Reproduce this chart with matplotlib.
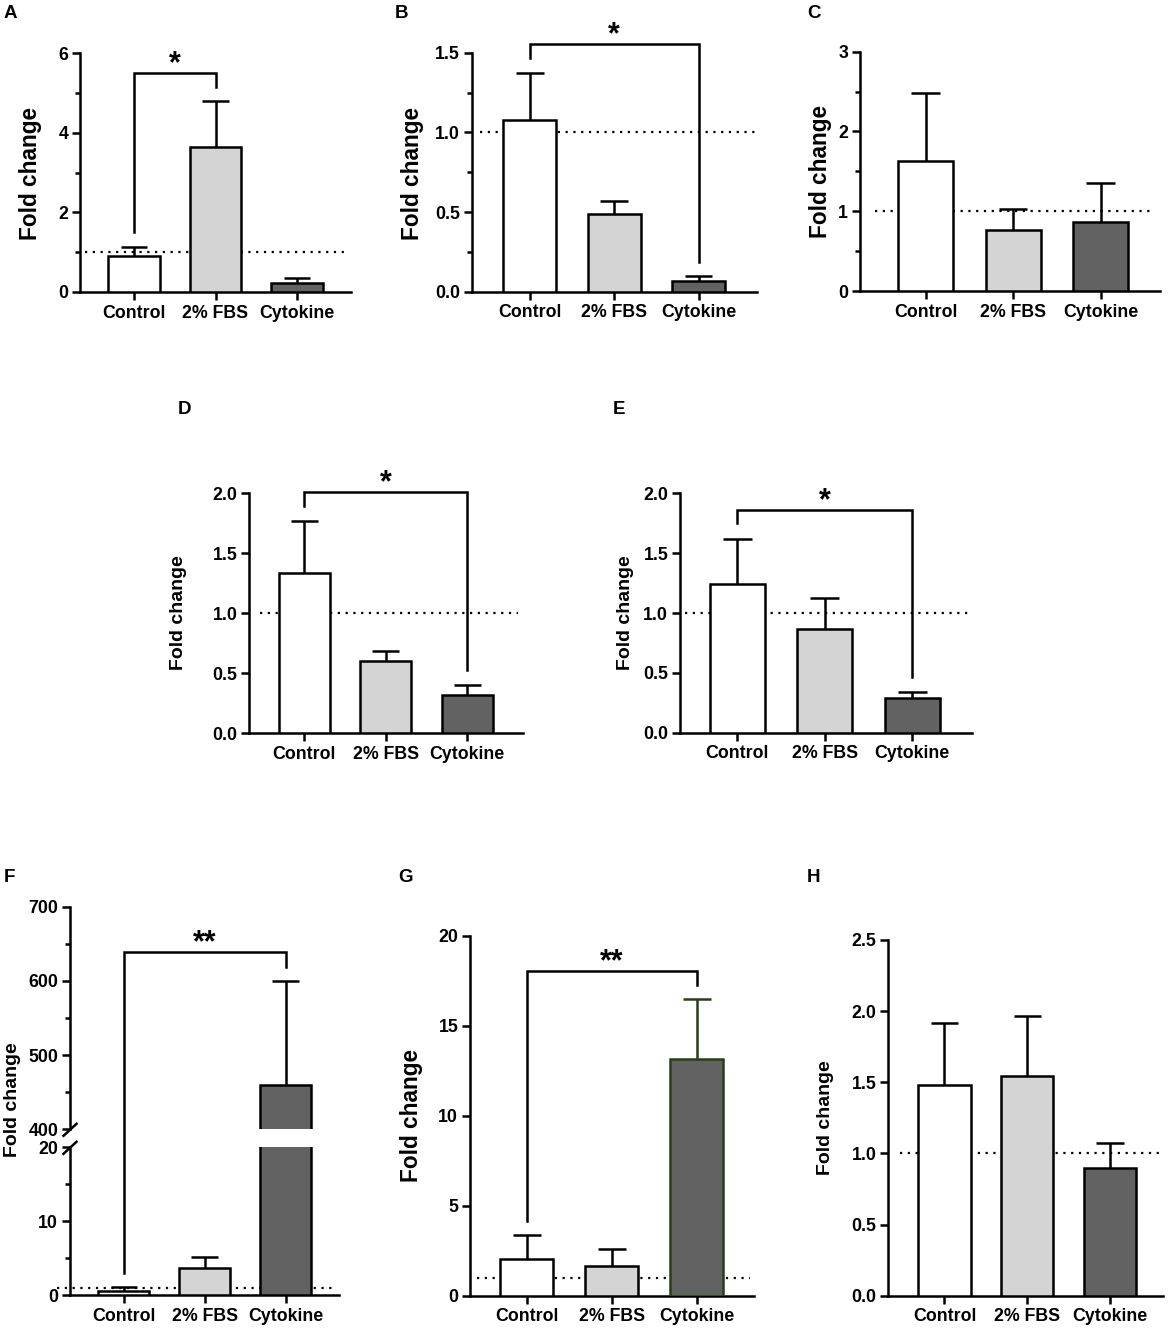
import matplotlib
matplotlib.use('Agg')
import matplotlib.pyplot as plt
import numpy as np
from matplotlib.lines import Line2D

plt.rcParams['font.family'] = ['Liberation Sans', 'DejaVu Sans']
plt.rcParams['font.weight'] = 'bold'

# ---------------- data ----------------
categories = ['Control', '2% FBS', 'Cytokine']

a_mean = [0.91, 3.65, 0.22]
a_sd = [0.23, 1.15, 0.12]
b_mean = [1.08, 0.49, 0.067]
b_sd = [0.295, 0.078, 0.032]
c_mean = [1.63, 0.76, 0.87]
c_sd = [0.85, 0.27, 0.49]
d_mean = [1.34, 0.60, 0.32]
d_sd = [0.43, 0.09, 0.085]
e_mean = [1.24, 0.866, 0.292]
e_sd = [0.38, 0.257, 0.045]
f_mean = [0.6, 3.6, 460.0]
f_sd = [0.5, 1.6, 140.0]
g_mean = [2.04, 1.67, 13.16]
g_sd = [1.32, 0.94, 3.32]
h_mean = [1.48, 1.546, 0.90]
h_sd = [0.44, 0.42, 0.175]

# significance brackets: (group i, group j, bracket height, leg i bottom, leg j bottom, label)
a_sig = (0, 1, 5.51, 1.51, 5.15, '*')
b_sig = (0, 2, 1.556, 1.465, 0.188, '*')
d_sig = (0, 2, 2.008, 1.894, 0.528, '*')
e_sig = (0, 2, 1.86, 1.75, 0.463, '*')
f_sig = (0, 2, 638.5, 2.94, 619.0, '**')
g_sig = (0, 2, 18.07, 4.17, 17.28, '**')

reference_level = 1.0

# ---------------- style ----------------
W, H = 1170, 1330
fig = plt.figure(figsize=(W / 100, H / 100), dpi=100)
LW = 1.8
PX = 72 / 100.0  # points per pixel
fills = ['#ffffff', '#d4d4d4', '#626262']
edges = ['black', 'black', 'black']
BAR_W = 0.63
CAP = 0.165
TICK_FS = 12.8
STAR_FS = 22
STAR_OFF = 0.5
x = np.arange(len(categories))


def add_ax(l, r, t, b):
    return fig.add_axes([l / W, 1 - b / H, (r - l) / W, (b - t) / H])


def style(ax, xlim, ylim, yticks, ylabels, yminor=(), show_x=True):
    ax.set_xlim(*xlim)
    ax.set_ylim(*ylim)
    ax.patch.set_alpha(0)
    for s in ['top', 'right']:
        ax.spines[s].set_visible(False)
    for s in ['left', 'bottom']:
        ax.spines[s].set_linewidth(LW)
    ax.set_yticks(yticks)
    ax.set_yticklabels(ylabels)
    ax.set_yticks(list(yminor), minor=True)
    ax.tick_params(axis='y', which='major', length=6 * PX * 1.4, width=LW,
                   labelsize=TICK_FS, pad=2.5)
    ax.tick_params(axis='y', which='minor', length=3.5 * PX * 1.4, width=LW)
    if show_x:
        ax.set_xticks(x)
        ax.set_xticklabels(categories)
        ax.tick_params(axis='x', which='major', length=6 * PX * 1.4, width=LW,
                       labelsize=TICK_FS, pad=3)
        ax.tick_params(axis='x', which='minor', length=0)
    else:
        ax.set_xticks([])
        ax.spines['bottom'].set_visible(False)


def bars(ax, means, sds, edgecols=edges, errcols=('black', 'black', 'black')):
    means = np.asarray(means)
    sds = np.asarray(sds)
    ax.bar(x, means, BAR_W, color=fills, edgecolor=edgecols, linewidth=LW, zorder=3)
    ax.vlines(x, means, means + sds, colors=errcols, linewidth=LW, zorder=2)
    ax.hlines(means + sds, x - CAP, x + CAP, colors=errcols, linewidth=LW, zorder=2)


def refline(ax, x0, x1):
    ax.axhline(reference_level, x0, x1, color='black', linewidth=1.6,
               linestyle=(0, (1, 2.5)), zorder=1, clip_on=False)


def star(ax, xc, y, txt):
    ax.annotate(txt, xy=(xc, y), xytext=(0, STAR_OFF),
                textcoords='offset points', ha='center', va='baseline',
                fontsize=STAR_FS, annotation_clip=False)


def bracket(ax, sig):
    i, j, y, li, lj, txt = sig
    ax.plot([x[i], x[i], x[j], x[j]], [li, y, y, lj], color='black', lw=LW,
            clip_on=False, solid_joinstyle='miter', zorder=4)
    star(ax, (x[i] + x[j]) / 2, y, txt)


def ylabel(xc, yc, fs):
    fig.text(xc / W, 1 - yc / H, 'Fold change', rotation=90, ha='center',
             va='center', fontsize=fs)


def letter(xl, yc, s):
    fig.text(xl / W, 1 - yc / H, s, ha='left', va='center', fontsize=13.5)


# ---------------- Panel A ----------------
ax = add_ax(80, 351, 53, 292)
style(ax, (-0.663, 2.663), (0, 6), [0, 2, 4, 6], ['0', '2', '4', '6'], [1, 3, 5])
bars(ax, a_mean, a_sd)
refline(ax, 0.018, 0.985)
bracket(ax, a_sig)
ylabel(30.5, 173, 16.3)
letter(4, 14, 'A')

# ---------------- Panel B ----------------
ax = add_ax(471.7, 756.7, 52.7, 291.7)
style(ax, (-0.69, 2.69), (0, 1.5), [0, 0.5, 1.0, 1.5], ['0.0', '0.5', '1.0', '1.5'],
      [0.25, 0.75, 1.25])
bars(ax, b_mean, b_sd)
refline(ax, 0.029, 0.995)
bracket(ax, b_sig)
ylabel(412.5, 173, 16.3)
letter(395, 14, 'B')

# ---------------- Panel C ----------------
ax = add_ax(860, 1160, 51.7, 291)
style(ax, (-0.75, 2.68), (0, 3), [0, 1, 2, 3], ['0', '1', '2', '3'], [0.5, 1.5, 2.5])
bars(ax, c_mean, c_sd)
refline(ax, 0.05, 0.983)
ylabel(820, 172, 16.3)
letter(807, 14, 'C')

# ---------------- Panel D ----------------
ax = add_ax(249.3, 523.3, 493.3, 733.3)
style(ax, (-0.675, 2.687), (0, 2), [0, 0.5, 1.0, 1.5, 2.0],
      ['0.0', '0.5', '1.0', '1.5', '2.0'])
bars(ax, d_mean, d_sd)
refline(ax, 0.04, 0.98)
bracket(ax, d_sig)
ylabel(178.3, 613, 14)
letter(178, 409, 'D')

# ---------------- Panel E ----------------
ax = add_ax(680, 971.7, 493.3, 732.7)
style(ax, (-0.655, 2.68), (0, 2), [0, 0.5, 1.0, 1.5, 2.0],
      ['0.0', '0.5', '1.0', '1.5', '2.0'])
bars(ax, e_mean, e_sd)
refline(ax, 0.017, 0.99)
bracket(ax, e_sig)
ylabel(625.7, 613, 14)
letter(613, 410, 'E')

# ---------------- Panel F (broken axis) ----------------
f_xlim = (-0.667, 2.66)
ax_lo = add_ax(70, 339, 1147.3, 1295)
ax_hi = add_ax(70, 339, 906.7, 1129.3)
style(ax_lo, f_xlim, (0, 20), [0, 10, 20], ['0', '10', '20'], [5, 15])
style(ax_hi, f_xlim, (400, 700), [400, 500, 600, 700], ['400', '500', '600', '700'],
      [450, 550, 650], show_x=False)
bars(ax_lo, f_mean, f_sd)
bars(ax_hi, f_mean, f_sd)
refline(ax_lo, -0.048, 0.976)
# bracket spanning both parts
i, j, yb, li, lj, txt = f_sig
to_fig = fig.transFigure.inverted()
pts = [ax_lo.transData.transform((x[i], li)),
       ax_hi.transData.transform((x[i], yb)),
       ax_hi.transData.transform((x[j], yb)),
       ax_hi.transData.transform((x[j], lj))]
pts = to_fig.transform(np.array(pts))
fig.add_artist(Line2D(pts[:, 0], pts[:, 1], color='black', lw=LW,
                      solid_joinstyle='miter', transform=fig.transFigure, zorder=5))
star(ax_hi, (x[i] + x[j]) / 2, yb, txt)
# break marks
for a, yy in ((ax_hi, 0.0), (ax_lo, 1.0)):
    cx, cy = a.transAxes.transform((0, yy))
    seg = to_fig.transform(np.array([[cx - 6.5, cy - 6.5], [cx + 6.5, cy + 5.5]]))
    fig.add_artist(Line2D(seg[:, 0], seg[:, 1], color='black', lw=LW,
                          transform=fig.transFigure))
ylabel(12.5, 1100, 14)
letter(4, 877, 'F')

# ---------------- Panel G ----------------
ax = add_ax(470, 754, 936, 1295.7)
style(ax, (-0.667, 2.674), (0, 20), [0, 5, 10, 15, 20], ['0', '5', '10', '15', '20'])
green = '#263f18'
bars(ax, g_mean, g_sd, edgecols=['black', 'black', green],
     errcols=('black', 'black', green))
refline(ax, 0.023, 0.986)
bracket(ax, g_sig)
ylabel(411.7, 1116, 16.3)
letter(398, 878, 'G')

# ---------------- Panel H ----------------
ax = add_ax(888.3, 1163.3, 940, 1295.7)
style(ax, (-0.679, 2.644), (0, 2.5), [0, 0.5, 1.0, 1.5, 2.0, 2.5],
      ['0.0', '0.5', '1.0', '1.5', '2.0', '2.5'])
bars(ax, h_mean, h_sd)
refline(ax, 0.042, 0.99)
ylabel(825.7, 1118, 14)
letter(807, 877, 'H')

fig.savefig('out.png', dpi=100)
